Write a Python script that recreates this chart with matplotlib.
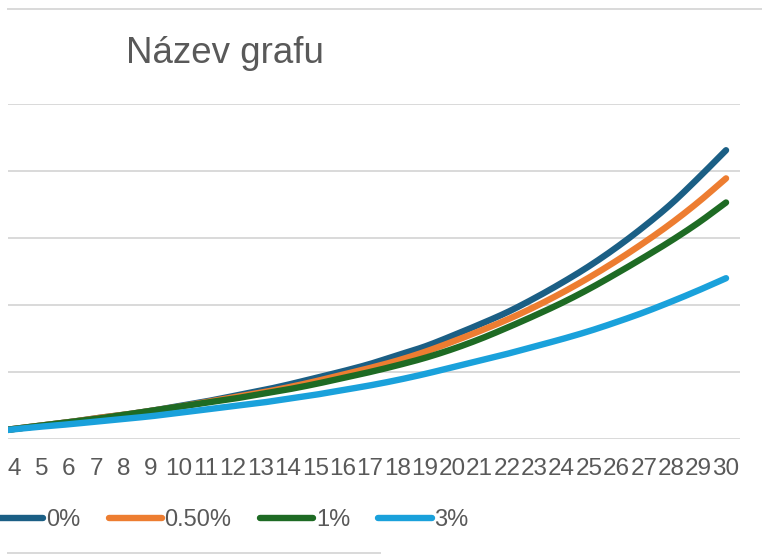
import matplotlib

matplotlib.use("Agg")
import matplotlib.pyplot as plt
import numpy as np
from matplotlib.lines import Line2D

# categories (3 is only partly visible at the cropped left edge)
years = list(range(3, 31))
tick_labels = [str(y) for y in range(4, 31)]

rate_0 = [0.10, 0.15, 0.20, 0.25, 0.31, 0.36, 0.42, 0.49, 0.56, 0.64, 0.72, 0.81, 0.91, 1.01,
          1.12, 1.25, 1.38, 1.54, 1.71, 1.89, 2.10, 2.33, 2.58, 2.86, 3.17, 3.51, 3.90, 4.31]
rate_05 = [0.10, 0.15, 0.20, 0.25, 0.31, 0.36, 0.42, 0.48, 0.55, 0.62, 0.69, 0.77, 0.86, 0.96,
           1.06, 1.17, 1.30, 1.45, 1.61, 1.78, 1.97, 2.18, 2.41, 2.66, 2.93, 3.22, 3.54, 3.89]
rate_1 = [0.10, 0.15, 0.20, 0.25, 0.30, 0.36, 0.42, 0.48, 0.54, 0.60, 0.67, 0.74, 0.82, 0.91,
          1.00, 1.10, 1.21, 1.34, 1.49, 1.66, 1.84, 2.03, 2.24, 2.47, 2.71, 2.96, 3.23, 3.53]
rate_3 = [0.10, 0.145, 0.185, 0.22, 0.26, 0.30, 0.34, 0.39, 0.44, 0.49, 0.54, 0.60, 0.66, 0.73,
          0.80, 0.88, 0.97, 1.07, 1.17, 1.27, 1.38, 1.49, 1.61, 1.745, 1.89, 2.05, 2.22, 2.40]

series = [
    ("0%", rate_0, "#1b5f85"),
    ("0.50%", rate_05, "#ed7d31"),
    ("1%", rate_1, "#1e6b24"),
    ("3%", rate_3, "#1aa1db"),
]


def smooth(x, y, n=24):
    # Catmull-Rom curve through the points, like Excel's "smoothed line"
    x = np.asarray(x, float)
    y = np.asarray(y, float)
    px = np.concatenate([[2 * x[0] - x[1]], x, [2 * x[-1] - x[-2]]])
    py = np.concatenate([[2 * y[0] - y[1]], y, [2 * y[-1] - y[-2]]])
    t = np.linspace(0, 1, n, endpoint=False)
    xs, ys = [], []
    for i in range(1, len(px) - 2):
        for p, out in ((px, xs), (py, ys)):
            p0, p1, p2, p3 = p[i - 1], p[i], p[i + 1], p[i + 2]
            out.append(0.5 * (2 * p1 + (-p0 + p2) * t + (2 * p0 - 5 * p1 + 4 * p2 - p3) * t**2
                              + (-p0 + 3 * p1 - 3 * p2 + p3) * t**3))
    xs.append([x[-1]])
    ys.append([y[-1]])
    return np.concatenate(xs), np.concatenate(ys)


W, H = 762, 555
plt.rcParams["font.family"] = ["Liberation Sans", "DejaVu Sans"]
text_color = "#595959"
grid_color = "#d9d9d9"

fig = plt.figure(figsize=(W / 100, H / 100), dpi=100)
ax = fig.add_axes([8 / W, (H - 439) / H, (740 - 8) / W, (439 - 104) / H])

for label, vals, color in series:
    sx, sy = smooth(years, vals)
    ax.plot(sx, sy, color=color, lw=4.6, solid_capstyle="round", label=label)

ax.set_xlim(3.78, 30.51)
ax.set_ylim(0, 5)
ax.set_yticks([0, 1, 2, 3, 4, 5])
ax.set_yticklabels([])
ax.set_xticks(range(4, 31))
ax.set_xticklabels(tick_labels)
ax.tick_params(axis="x", length=0, pad=13.5, labelsize=17.5, labelcolor=text_color)
ax.tick_params(axis="y", length=0)
ax.yaxis.grid(True, color=grid_color, lw=1.4)
ax.set_axisbelow(True)
for s in ax.spines.values():
    s.set_visible(False)

# chart frame edges left in the crop
fig.add_artist(Line2D([8 / W, 1.0], [1 - 9 / H] * 2, color=grid_color, lw=1.4))
fig.add_artist(Line2D([8 / W, 380 / W], [1 - 553 / H] * 2, color=grid_color, lw=1.4))

fig.text(126 / W, 1 - 63 / H, "Název grafu", fontsize=26.5, color=text_color,
         ha="left", va="baseline")

fig.legend(loc="center left", bbox_to_anchor=(-10 / W, 1 - 520 / H), ncol=4, frameon=False,
           fontsize=17, labelcolor=text_color, handlelength=2.25, handletextpad=0.12,
           columnspacing=1.2, borderaxespad=0, borderpad=0)

fig.savefig("out.png", dpi=100)
